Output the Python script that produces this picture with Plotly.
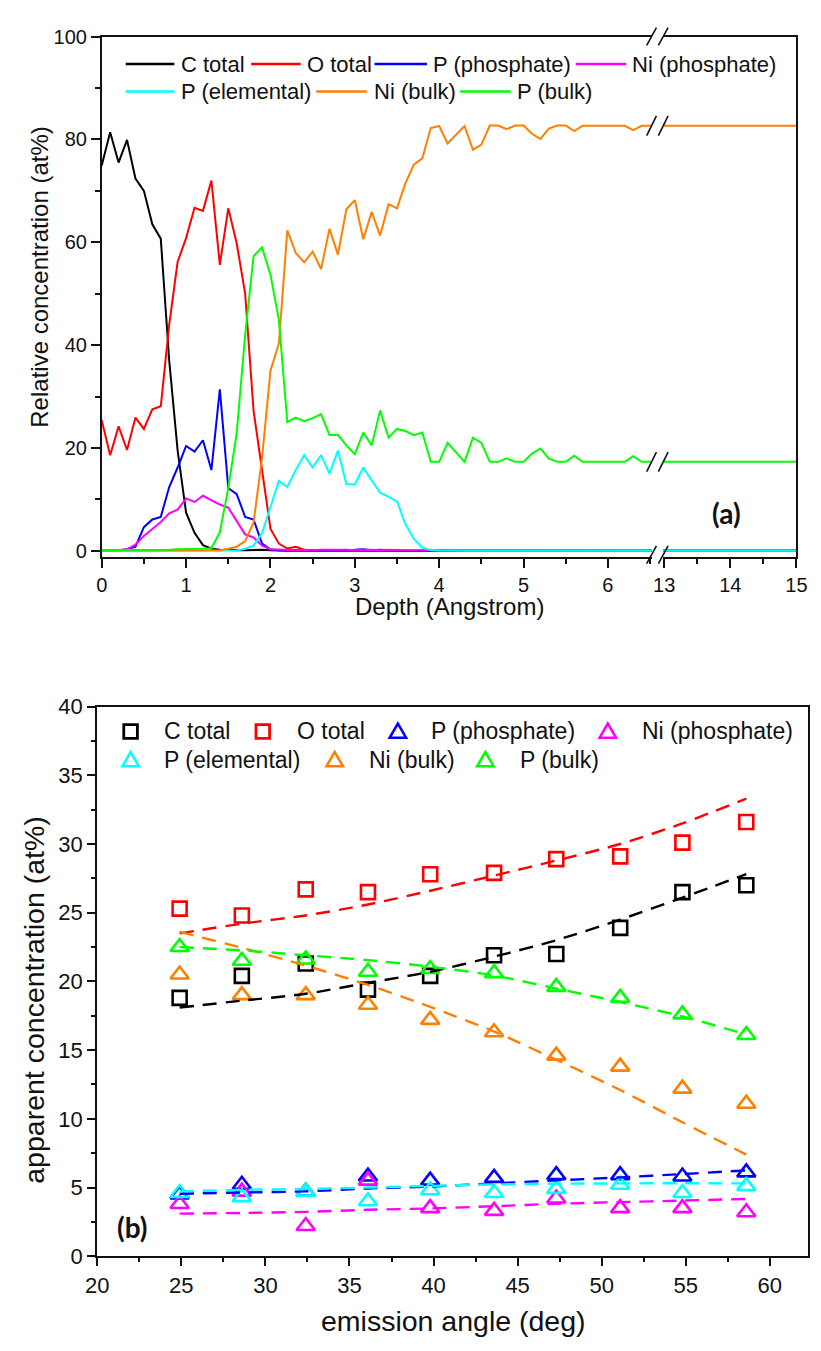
import plotly.graph_objects as go

W, H = 821, 1351

# ---------------- data: panel (a) ----------------
depth = [0.0, 0.1, 0.2, 0.3, 0.4, 0.5, 0.6, 0.7, 0.8, 0.9,
         1.0, 1.1, 1.2, 1.3, 1.4, 1.5, 1.6, 1.7, 1.8, 1.9,
         2.0, 2.1, 2.2, 2.3, 2.4, 2.5, 2.6, 2.7, 2.8, 2.9,
         3.0, 3.1, 3.2, 3.3, 3.4, 3.5, 3.6, 3.7, 3.8, 3.9,
         4.0, 4.1, 4.2, 4.3, 4.4, 4.5, 4.6, 4.7, 4.8, 4.9,
         5.0, 5.1, 5.2, 5.3, 5.4, 5.5, 5.6, 5.7, 5.8, 5.9,
         6.0, 6.1, 6.2, 6.3, 6.4, 6.5, 6.6]
depth_deep = [12.9, 13.5, 14.0, 14.5, 15.0]

c_total = [74.9, 81.4, 75.5, 79.9, 72.4, 70.0, 63.5, 60.7, 37.0, 19.5,
           7.4, 3.5, 1.1, 0.4, 0.2, 0.1, 0.1, 0.1, 0.2, 0.2,
           0.1, 0.0, 0.0, 0.0, 0.0, 0.0, 0.0, 0.0, 0.0, 0.0,
           0.0, 0.0, 0.0, 0.0, 0.0, 0.0, 0.0, 0.0, 0.0, 0.0,
           0.0, 0.0, 0.0, 0.0, 0.0, 0.0, 0.0, 0.0, 0.0, 0.0,
           0.0, 0.0, 0.0, 0.0, 0.0, 0.0, 0.0, 0.0, 0.0, 0.0,
           0.0, 0.0, 0.0, 0.0, 0.0, 0.0, 0.0]
o_total = [25.4, 18.6, 24.2, 19.6, 25.9, 23.7, 27.5, 28.1, 44.0, 56.2,
           60.8, 66.7, 66.1, 72.0, 55.6, 66.6, 59.8, 50.0, 27.2, 15.7,
           4.3, 1.4, 0.45, 0.8, 0.2, 0.1, 0.0, 0.0, 0.0, 0.0,
           0.0, 0.0, 0.0, 0.0, 0.0, 0.0, 0.0, 0.0, 0.0, 0.0,
           0.0, 0.0, 0.0, 0.0, 0.0, 0.0, 0.0, 0.0, 0.0, 0.0,
           0.0, 0.0, 0.0, 0.0, 0.0, 0.0, 0.0, 0.0, 0.0, 0.0,
           0.0, 0.0, 0.0, 0.0, 0.0, 0.0, 0.0]
p_phosphate = [0.0, 0.0, 0.1, 0.3, 0.8, 4.6, 6.1, 6.6, 12.4, 16.2,
               20.4, 19.3, 21.5, 15.7, 31.4, 12.2, 11.0, 6.6, 6.1, 1.4,
               0.3, 0.1, 0.1, 0.2, 0.1, 0.2, 0.1, 0.1, 0.2, 0.1,
               0.2, 0.3, 0.1, 0.2, 0.1, 0.1, 0.0, 0.0, 0.0, 0.0,
               0.0, 0.0, 0.0, 0.0, 0.0, 0.0, 0.0, 0.0, 0.0, 0.0,
               0.0, 0.0, 0.0, 0.0, 0.0, 0.0, 0.0, 0.0, 0.0, 0.0,
               0.0, 0.0, 0.0, 0.0, 0.0, 0.0, 0.0]
ni_phosphate = [0.0, 0.0, 0.1, 0.3, 1.2, 2.9, 4.2, 5.6, 7.3, 8.0,
                10.2, 9.5, 10.7, 9.8, 9.0, 8.4, 5.7, 3.2, 2.6, 1.0,
                0.3, 0.2, 0.2, 0.1, 0.2, 0.1, 0.2, 0.2, 0.3, 0.2,
                0.1, 0.2, 0.2, 0.1, 0.2, 0.1, 0.1, 0.0, 0.0, 0.0,
                0.0, 0.0, 0.0, 0.0, 0.0, 0.0, 0.0, 0.0, 0.0, 0.0,
                0.0, 0.0, 0.0, 0.0, 0.0, 0.0, 0.0, 0.0, 0.0, 0.0,
                0.0, 0.0, 0.0, 0.0, 0.0, 0.0, 0.0]
p_elemental = [0.0, 0.0, 0.0, 0.0, 0.0, 0.0, 0.0, 0.0, 0.0, 0.0,
               0.0, 0.0, 0.0, 0.0, 0.0, 0.0, 0.05, 0.4, 1.0, 3.4,
               8.4, 13.6, 12.4, 15.7, 18.6, 16.2, 18.6, 15.0, 19.5, 13.0,
               12.9, 16.2, 13.7, 11.3, 10.5, 9.6, 5.2, 2.3, 0.6, 0.15,
               0.05, 0.0, 0.0, 0.0, 0.0, 0.0, 0.0, 0.0, 0.0, 0.0,
               0.0, 0.0, 0.0, 0.0, 0.0, 0.0, 0.0, 0.0, 0.0, 0.0,
               0.0, 0.0, 0.0, 0.0, 0.0, 0.0, 0.0]
ni_bulk = [0.0, 0.0, 0.0, 0.0, 0.0, 0.0, 0.0, 0.0, 0.0, 0.0,
           0.0, 0.0, 0.0, 0.0, 0.1, 0.4, 0.8, 1.9, 5.5, 18.0,
           35.0, 40.3, 62.3, 57.9, 56.1, 58.2, 54.8, 62.6, 57.6, 66.4,
           68.2, 60.6, 65.9, 61.3, 67.4, 66.6, 71.5, 75.1, 76.3, 82.2,
           82.6, 79.2, 80.9, 82.6, 78.0, 79.0, 82.7, 82.7, 82.0, 82.7,
           82.7, 81.1, 80.1, 82.1, 82.7, 82.7, 81.6, 82.65, 82.65, 82.65,
           82.65, 82.65, 82.65, 81.8, 82.65, 82.65, 82.65]
p_bulk = [0.1, 0.1, 0.1, 0.2, 0.2, 0.2, 0.1, 0.1, 0.2, 0.3,
          0.3, 0.4, 0.4, 0.5, 3.6, 12.2, 22.9, 42.0, 57.3, 59.0,
          53.7, 44.9, 25.0, 25.9, 25.2, 25.8, 26.6, 22.5, 22.5, 20.5,
          18.8, 23.0, 20.5, 27.3, 22.0, 23.7, 23.3, 22.5, 23.0, 17.3,
          17.3, 21.0, 19.1, 17.3, 22.0, 21.0, 17.3, 17.3, 18.0, 17.3,
          17.3, 18.9, 19.9, 17.9, 17.3, 17.3, 18.5, 17.3, 17.3, 17.3,
          17.3, 17.3, 17.3, 18.4, 17.3, 17.3, 17.3]

# deep (after axis break) values
c_total_deep = [0.0, 0.0, 0.0, 0.0, 0.0]
o_total_deep = [0.0, 0.0, 0.0, 0.0, 0.0]
p_phosphate_deep = [0.0, 0.0, 0.0, 0.0, 0.0]
ni_phosphate_deep = [0.0, 0.0, 0.0, 0.0, 0.0]
p_elemental_deep = [0.0, 0.0, 0.0, 0.0, 0.0]
ni_bulk_deep = [82.65, 82.65, 82.65, 82.65, 82.65]
p_bulk_deep = [17.3, 17.3, 17.3, 17.3, 17.3]

# ---------------- data: panel (b) ----------------
angle = [24.9, 28.6, 32.4, 36.1, 39.8, 43.6, 47.3, 51.1, 54.8, 58.6]
c_total_b = [18.8, 20.4, 21.3, 19.4, 20.4, 21.9, 22.0, 23.9, 26.5, 27.0]
o_total_b = [25.3, 24.8, 26.7, 26.5, 27.8, 27.9, 28.9, 29.1, 30.1, 31.6]
p_phosphate_b = [4.5, 5.2, 4.7, 5.8, 5.5, 5.7, 5.9, 5.9, 5.8, 6.1]
ni_phosphate_b = [3.8, 4.7, 2.2, 5.5, 3.5, 3.3, 4.2, 3.5, 3.5, 3.2]
p_elemental_b = [4.6, 4.3, 4.7, 4.0, 4.8, 4.6, 4.9, 5.2, 4.6, 5.1]
ni_bulk_b = [20.5, 19.0, 19.0, 18.3, 17.2, 16.3, 14.6, 13.8, 12.2, 11.1]
p_bulk_b = [22.5, 21.5, 21.6, 20.7, 20.9, 20.6, 19.6, 18.8, 17.6, 16.1]

fit_c_total = [18.1, 18.6, 19.1, 19.9, 20.7, 21.8, 23.0, 24.5, 26.1, 27.8]
fit_o_total = [23.5, 24.2, 24.8, 25.6, 26.6, 27.7, 28.8, 30.0, 31.5, 33.3]
fit_p_phosphate = [4.55, 4.64, 4.72, 4.93, 5.07, 5.3, 5.52, 5.74, 5.98, 6.25]
fit_ni_phosphate = [3.1, 3.15, 3.23, 3.38, 3.48, 3.64, 3.82, 3.94, 4.05, 4.17]
fit_p_elemental = [4.72, 4.83, 4.9, 5.0, 5.12, 5.22, 5.28, 5.3, 5.31, 5.3]
fit_ni_bulk = [23.6, 22.45, 21.15, 19.75, 18.15, 16.35, 14.3, 12.1, 9.75, 7.4]
fit_p_bulk = [22.5, 22.26, 21.9, 21.55, 21.07, 20.43, 19.48, 18.5, 17.45, 16.14]

names = ["C total", "O total", "P (phosphate)", "Ni (phosphate)",
         "P (elemental)", "Ni (bulk)", "P (bulk)"]
colors = ["#000000", "#FF0000", "#0000FF", "#FF00FF",
          "#00FFFF", "#FF8000", "#00FF00"]

FONT = "Liberation Sans, Arial, sans-serif"


def PX(x):
    return x / W


def PY(y):
    return 1 - y / H


fig = go.Figure()

# ---------- panel (a) ----------
top_series = [c_total, o_total, p_phosphate, ni_phosphate, p_elemental, ni_bulk, p_bulk]
deep_series = [c_total_deep, o_total_deep, p_phosphate_deep, ni_phosphate_deep,
               p_elemental_deep, ni_bulk_deep, p_bulk_deep]
for nm, col, ys, yd in zip(names, colors, top_series, deep_series):
    fig.add_trace(go.Scatter(x=depth, y=ys, mode="lines", name=nm,
                             line=dict(color=col, width=2), xaxis="x", yaxis="y",
                             showlegend=False))
    fig.add_trace(go.Scatter(x=depth_deep, y=yd, mode="lines", name=nm,
                             line=dict(color=col, width=2), xaxis="x2", yaxis="y2",
                             showlegend=False))

# ---------- panel (b) ----------
b_series = [c_total_b, o_total_b, p_phosphate_b, ni_phosphate_b,
            p_elemental_b, ni_bulk_b, p_bulk_b]
b_fits = [fit_c_total, fit_o_total, fit_p_phosphate, fit_ni_phosphate,
          fit_p_elemental, fit_ni_bulk, fit_p_bulk]
symbols = ["square-open", "square-open"] + ["triangle-up-open"] * 5
sizes = [14, 14, 16, 16, 16, 16, 16]
for nm, col, ys, sym, sz in zip(names, colors, b_series, symbols, sizes):
    fig.add_trace(go.Scatter(x=angle, y=ys, mode="markers", name=nm,
                             marker=dict(symbol=sym, size=sz, color=col,
                                         line=dict(width=2.6, color=col)),
                             xaxis="x3", yaxis="y3", showlegend=False))
for nm, col, yf in zip(names, colors, b_fits):
    fig.add_trace(go.Scatter(x=angle, y=yf, mode="lines", name=nm + " fit",
                             line=dict(color=col, width=2.4, dash="14px,9px",
                                       shape="spline", smoothing=0.8),
                             xaxis="x3", yaxis="y3", showlegend=False))

# ---------- axes ----------
tick_font_a = dict(family=FONT, size=20, color="#111111")
tick_font_b = dict(family=FONT, size=22, color="#111111")

px_per_a = 86.8
left_end, right_start = 658.0, 670.0
x_left_max = (left_end - 92.3) / px_per_a
x_right_min = 13 - (671 - right_start) / 67.85

common_a = dict(showline=True, linecolor="#111111", linewidth=1.6, ticks="outside",
                ticklen=9, tickwidth=1.5, tickcolor="#111111", showgrid=False,
                zeroline=False, tickfont=tick_font_a)

fig.update_layout(
    width=W, height=H,
    margin=dict(l=0, r=0, t=0, b=0),
    paper_bgcolor="white", plot_bgcolor="white",
    showlegend=False,
    xaxis=dict(domain=[PX(92.3), PX(left_end)], range=[0, x_left_max], anchor="y",
               tickvals=[0, 1, 2, 3, 4, 5, 6], mirror=True,
               minor=dict(dtick=0.5, tick0=0, ticklen=5, ticks="outside",
                          tickcolor="#111111", tickwidth=1.5),
               **common_a),
    xaxis2=dict(domain=[PX(right_start), PX(807)], range=[x_right_min, 15.0], anchor="y2",
                tickvals=[13, 14, 15], mirror=True,
                minor=dict(dtick=0.5, tick0=13, ticklen=5, ticks="outside",
                           tickcolor="#111111", tickwidth=1.5),
                **common_a),
    yaxis=dict(domain=[PY(555), PY(25)], range=[-1.15, 100], anchor="x",
               tickvals=[0, 20, 40, 60, 80, 100],
               minor=dict(dtick=10, tick0=0, ticklen=5, ticks="outside",
                          tickcolor="#111111", tickwidth=1.5),
               **common_a),
    yaxis2=dict(domain=[PY(555), PY(25)], range=[-1.15, 100], anchor="x2",
                side="right", showline=True, linecolor="#111111", linewidth=1.6,
                ticks="", showticklabels=False, showgrid=False, zeroline=False),
    xaxis3=dict(domain=[PX(87.7), PX(819.3)], range=[20, 62.29], anchor="y3",
                tickvals=[20, 25, 30, 35, 40, 45, 50, 55, 60], mirror=True,
                showline=True, linecolor="#111111", linewidth=2, ticks="outside",
                ticklen=8, tickwidth=1.8, tickcolor="#111111", showgrid=False,
                zeroline=False, tickfont=tick_font_b,
                minor=dict(dtick=2.5, tick0=20, ticklen=4, ticks="outside",
                           tickcolor="#111111", tickwidth=1.8)),
    yaxis3=dict(domain=[PY(1267.7), PY(707.7)], range=[0, 40], anchor="x3",
                tickvals=[0, 5, 10, 15, 20, 25, 30, 35, 40], mirror=True,
                showline=True, linecolor="#111111", linewidth=2, ticks="outside",
                ticklen=8, tickwidth=1.8, tickcolor="#111111", showgrid=False,
                zeroline=False, tickfont=tick_font_b,
                minor=dict(dtick=2.5, tick0=0, ticklen=4, ticks="outside",
                           tickcolor="#111111", tickwidth=1.8)),
)

annotations = []
shapes = []


def text(x, y, s, size, anchor="left", angle=0, bold=False, family=FONT):
    annotations.append(dict(
        x=PX(x), y=PY(y), xref="paper", yref="paper", text=("<b>%s</b>" % s) if bold else s,
        showarrow=False, xanchor=anchor, yanchor="middle", textangle=angle,
        font=dict(family=family, size=size, color="#111111")))


# axis titles
text(27.5, 270, "Relative concentration (at%)", 24, anchor="center", angle=-90)
text(450, 606, "Depth (Angstrom)", 24, anchor="center")
text(23, 1006, "apparent concentration (at%)", 28.5, anchor="center", angle=-90)
text(454, 1334, "emission angle (deg)", 28.5, anchor="center")

# panel labels
text(735, 510, "(a)", 28, anchor="center", bold=True, family="Lato, Liberation Sans, sans-serif")
text(123, 1238, "(b)", 28, anchor="center", bold=True, family="Lato, Liberation Sans, sans-serif")

# legend panel (a): line samples + text
leg_a = [(117, 167, 174, 53), (246, 297, 303, 53), (373, 427, 433, 53), (580, 632, 638, 53),
         (117, 167, 174, 81), (313, 365, 372, 81), (461, 513, 519, 81)]
for (x0, x1, xt, yy), nm, col in zip(leg_a, names, colors):
    shapes.append(dict(type="line", xref="paper", yref="paper", x0=PX(x0), x1=PX(x1),
                       y0=PY(yy), y1=PY(yy), line=dict(color=col, width=2.5)))
    text(xt - 2, yy, nm, 22)

# legend panel (b): marker symbols + text
leg_b = [(122, 156, 733), (258, 293, 733), (397, 431, 733), (613, 648, 733),
         (122, 156, 762), (332, 367, 762), (487, 523, 762)]
for (xc, xt, yy), nm, col, sym in zip(leg_b, names, colors, symbols):
    if sym.startswith("square"):
        shapes.append(dict(type="rect", xref="paper", yref="paper",
                           x0=PX(xc - 7), x1=PX(xc + 7), y0=PY(yy + 7), y1=PY(yy - 7),
                           line=dict(color=col, width=2.8), fillcolor="rgba(0,0,0,0)"))
    else:
        path = "M %f %f L %f %f L %f %f Z" % (PX(xc - 8.5), PY(yy + 6.5), PX(xc + 8.5), PY(yy + 6.5),
                                              PX(xc), PY(yy - 8))
        shapes.append(dict(type="path", xref="paper", yref="paper", path=path,
                           line=dict(color=col, width=2.5), fillcolor="rgba(0,0,0,0)"))
    text(xt - 2, yy, nm, 23)

# axis-break marks
ppu = 5.24  # pixels per unit on panel (a) y axis


def break_pair_paper(yc):
    for xc in (left_end, right_start):
        shapes.append(dict(type="line", xref="paper", yref="paper",
                           x0=PX(xc - 5), y0=PY(yc + 9), x1=PX(xc + 5), y1=PY(yc - 9),
                           line=dict(color="#111111", width=1.6)))


def break_pair_data(v):
    dy = 10 / ppu
    for xc in (left_end, right_start):
        shapes.append(dict(type="line", xref="paper", yref="y",
                           x0=PX(xc - 5), y0=v - dy, x1=PX(xc + 5), y1=v + dy,
                           line=dict(color="#111111", width=1.6)))


break_pair_paper(25)
break_pair_paper(553)
break_pair_data(ni_bulk_deep[-1])
break_pair_data(p_bulk_deep[-1])

fig.update_layout(annotations=annotations, shapes=shapes)

fig.write_html("out.html")
